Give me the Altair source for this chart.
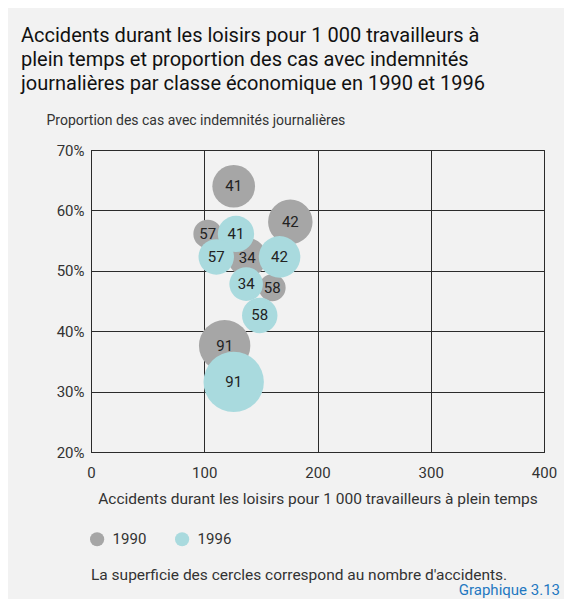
import altair as alt
import pandas as pd

# ---- data ----
classes = ["41", "42", "57", "34", "58", "91"]
x_1990 = [126, 176, 103, 138, 160, 118]
y_1990 = [64.0, 58.1, 56.1, 52.2, 47.2, 37.6]
acc_1990 = [5800, 6300, 2600, 4800, 2300, 8400]
x_1996 = [128, 166.5, 110.6, 137, 149, 126]
y_1996 = [56.1, 52.3, 52.3, 47.8, 42.6, 31.6]
acc_1996 = [4200, 5500, 4000, 3600, 4000, 11600]
years = ["1990", "1996"]
x_ticks = [0, 100, 200, 300, 400]
y_ticks = [20, 30, 40, 50, 60, 70]

title_lines = [
    "Accidents durant les loisirs pour 1 000 travailleurs à",
    "plein temps et proportion des cas avec indemnités",
    "journalières par classe économique en 1990 et 1996",
]
y_title = "Proportion des cas avec indemnités journalières"
x_title = "Accidents durant les loisirs pour 1 000 travailleurs à plein temps"
note_text = "La superficie des cercles correspond au nombre d'accidents."
source_text = "Graphique 3.13"

rows = []
for i, c in enumerate(classes):
    rows.append({"year": "1990", "yi": 0, "cls": c, "x": x_1990[i], "y": y_1990[i], "acc": acc_1990[i]})
for i, c in enumerate(classes):
    rows.append({"year": "1996", "yi": 1, "cls": c, "x": x_1996[i], "y": y_1996[i], "acc": acc_1996[i]})
df = pd.DataFrame(rows)

FONT = "Roboto"
GRAY = "#a6a6a6"
TEAL = "#a9dade"
INK = "#333333"
GRID = "#2b2b2b"

x_enc = alt.X(
    "x:Q",
    scale=alt.Scale(domain=[0, 400], nice=False),
    axis=alt.Axis(
        values=x_ticks, title=x_title, grid=True, ticks=False, tickSize=0,
        labelPadding=13, labelFontSize=15, labelFont=FONT, labelColor=INK,
        titleFont=FONT, titleFontSize=15.5, titleFontWeight="normal", titleColor=INK,
        titlePadding=11, gridColor=GRID, gridOpacity=1, domainColor=GRID,
        labelFlush=False,
    ),
)
y_enc = alt.Y(
    "y:Q",
    scale=alt.Scale(domain=[20, 70], nice=False, zero=False),
    axis=alt.Axis(
        values=y_ticks, labelExpr="datum.value + '%'", title=y_title, grid=True,
        ticks=False, tickSize=0, labelPadding=7, labelFontSize=15, labelFont=FONT,
        labelColor=INK, titleFont=FONT, titleFontSize=14, titleFontWeight="normal",
        titleColor=INK, titleAngle=0, titleX=-45, titleY=-30, titleAlign="left",
        titleBaseline="middle", gridColor=GRID, gridOpacity=1, domainColor=GRID,
    ),
)

base = alt.Chart(df)

points = base.mark_circle(opacity=1).encode(
    x=x_enc,
    y=y_enc,
    size=alt.Size("acc:Q", scale=alt.Scale(domain=[0, 12000], range=[0, 3770]), legend=None),
    color=alt.Color(
        "year:N",
        scale=alt.Scale(domain=years, range=[GRAY, TEAL]),
        legend=alt.Legend(
            orient="none", legendX=-1.4, legendY=381.5, direction="horizontal",
            title=None, symbolType="circle", symbolSize=201, symbolStrokeWidth=0,
            symbolOpacity=1, labelFontSize=15, labelFont=FONT, labelColor=INK,
            labelOffset=8, columnPadding=28, padding=0,
        ),
    ),
    order=alt.Order("yi:Q"),
)

labels = base.mark_text(fontSize=15, font=FONT, color="#222222").encode(
    x=x_enc, y=y_enc, text="cls:N"
)

note = alt.Chart(pd.DataFrame({"t": [note_text]})).mark_text(
    align="left", baseline="middle", fontSize=15.5, font=FONT, color=INK
).encode(x=alt.value(0), y=alt.value(424.7), text="t:N")

source = alt.Chart(pd.DataFrame({"t": [source_text]})).mark_text(
    align="right", baseline="middle", fontSize=15, font=FONT, color="#1f78c1"
).encode(x=alt.value(469), y=alt.value(440), text="t:N")

chart = (
    alt.layer(points, labels, note, source)
    .properties(
        width=453,
        height=302,
        autosize=alt.AutoSizeParams(type="none"),
        padding={"left": 83, "top": 142, "right": 20, "bottom": 147},
        title=alt.TitleParams(
            text=title_lines, anchor="start", frame="group", orient="top",
            dx=-70, offset=19, fontSize=20, font=FONT, fontWeight="normal",
            color="#111111", lineHeight=24,
        ),
    )
    .configure(background="#f2f2f2")
    .configure_view(stroke=GRID)
)

chart.save("out.html", embed_options={"renderer": "svg", "actions": False})
